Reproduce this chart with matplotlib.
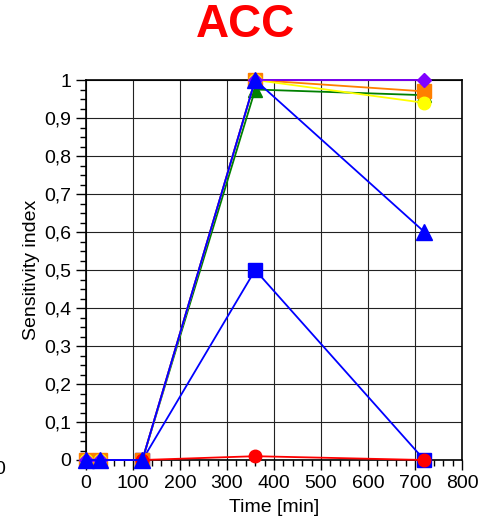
import matplotlib
matplotlib.use('Agg')
import matplotlib.pyplot as plt
from matplotlib.ticker import MultipleLocator, FuncFormatter

plt.rcParams['font.family'] = ['Liberation Sans', 'DejaVu Sans']

times = [0, 30, 120, 360, 720]
late_times = [120, 360, 720]

blue_sq = [0, 0.5, 0.0]
green_tri = [0, 0, 0, 0.975, 0.96]
orange_sq = [0, 0, 0, 1.0, 0.97]
yellow_circ = [0, 0, 0, 1.0, 0.94]
purple_dia = [0, 0, 0, 1.0, 1.0]
red_circ = [0, 0.01, 0.0]
blue_tri = [0, 0, 0, 1.0, 0.6]

series = [
    (late_times, blue_sq, '#0000ff', 's', 10),
    (times, green_tri, '#008000', '^', 10),
    (times, orange_sq, '#ff7f00', 's', 10),
    (times, yellow_circ, '#ffff00', 'o', 9),
    (times, purple_dia, '#8000ff', 'D', 7.5),
    (late_times, red_circ, '#ff0000', 'o', 9),
    (times, blue_tri, '#0000ff', '^', 11),
]

fig = plt.figure(figsize=(4.81, 5.26), dpi=100)
ax = fig.add_axes([86 / 481, 1 - 460 / 526, 376 / 481, 380 / 526])

for i, (t, vals, color, marker, ms) in enumerate(series):
    ax.plot(t, vals, color=color, marker=marker, markersize=ms,
            linewidth=1.3, clip_on=False, zorder=3 + i)

ax.set_xlim(0, 800)
ax.set_ylim(0, 1)
ax.xaxis.set_major_locator(MultipleLocator(100))
ax.xaxis.set_minor_locator(MultipleLocator(20))
ax.yaxis.set_major_locator(MultipleLocator(0.1))
ax.yaxis.set_minor_locator(MultipleLocator(0.025))
ax.yaxis.set_major_formatter(FuncFormatter(
    lambda v, p: '0' if abs(v) < 1e-9 else ('1' if abs(v - 1) < 1e-9 else f'{v:.1f}'.replace('.', ','))))

ax.grid(True, which='major', color='#222222', linewidth=0.8)
ax.set_axisbelow(True)
ax.tick_params(which='major', length=7, width=1, labelsize=14, direction='out')
ax.tick_params(which='minor', length=4, width=1, direction='out')
for s in ax.spines.values():
    s.set_linewidth(1.2)

ax.set_xlabel('Time [min]', fontsize=14, labelpad=5)
ax.set_ylabel('Sensitivity index', fontsize=14, labelpad=3)

fig.text(245 / 481, 1 - 25 / 526, 'ACC', color='#ff0000', fontsize=33,
         fontweight='bold', ha='center', va='center')
# fragment of the neighbouring panel's tick label, cut at the left edge
fig.text(-6 / 481, 1 - 470 / 526, '0', fontsize=14, ha='left', va='center')

fig.savefig('out.png', dpi=100)
